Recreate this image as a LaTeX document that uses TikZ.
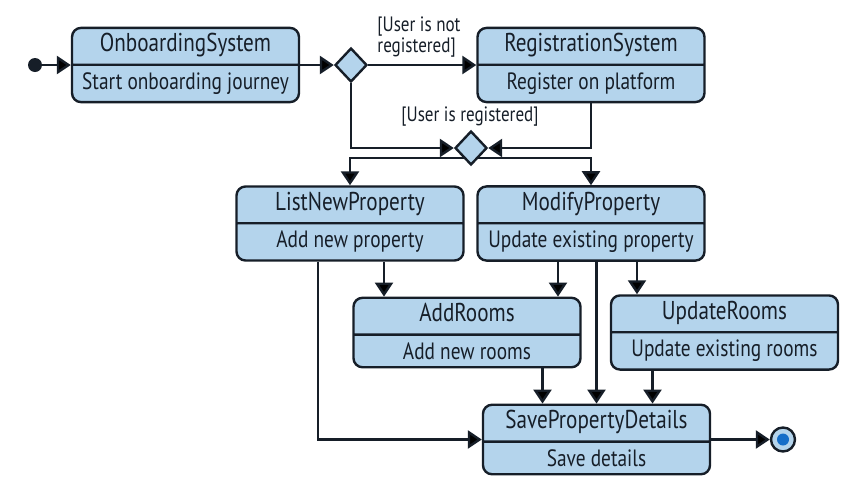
\documentclass[tikz,border=0pt]{standalone}
\usepackage{fontspec}
\setmainfont[FakeStretch=0.82]{PT Sans}
\usetikzlibrary{shapes,shapes.geometric,arrows.meta,positioning}

\definecolor{boxfill}{RGB}{180,212,236}
\definecolor{inkcol}{RGB}{22,30,40}
\definecolor{dotblue}{RGB}{22,110,200}
\newcommand\titlesize{\fontsize{12.9pt}{13pt}\selectfont}

\tikzset{
  state/.style={rectangle split, rectangle split parts=2, draw=inkcol, fill=boxfill,
    line width=1.2pt, rounded corners=4.5pt, minimum width=113.5pt,
    text height=8pt, text depth=2.6pt, inner ysep=3.3pt, align=center,
    font=\fontsize{11.8pt}{12pt}\selectfont, text=inkcol},
  choice/.style={diamond, draw=inkcol, fill=boxfill, line width=1.2pt, inner sep=0pt,
    minimum width=16pt, minimum height=17pt},
  flow/.style={-{Triangle[length=7pt,width=9pt]}, line width=1.2pt, draw=inkcol},
  guard/.style={font=\fontsize{10.4pt}{10.8pt}\selectfont, text=inkcol, align=left, inner sep=0pt}
}

\begin{document}
\begin{tikzpicture}[x=0.5pt,y=-0.5pt]
      \useasboundingbox (0,0) rectangle (868,499);
      % start and end
      \node[circle, fill=inkcol, inner sep=0pt, minimum size=7pt] (start) at (35,65) {};
      \node[circle, draw=inkcol, fill=boxfill, line width=1.2pt, inner sep=0pt, minimum size=12pt,
            path picture={\fill[dotblue] (path picture bounding box.center) circle (3pt);}] (stop) at (783,439.5) {};
      % activities
      \node[state] (onboard) at (185.5,65) {\titlesize OnboardingSystem \nodepart{two} Start onboarding journey};
      \node[state] (register) at (591,65) {\titlesize RegistrationSystem \nodepart{two} Register on platform};
      \node[state] (listprop) at (350,223.5) {\titlesize ListNewProperty \nodepart{two} Add new property};
      \node[state] (modprop) at (591,223.5) {\titlesize ModifyProperty \nodepart{two} Update existing property};
      \node[state] (addrooms) at (467,332.5) {\titlesize AddRooms \nodepart{two} Add new rooms};
      \node[state] (updrooms) at (724.5,332.5) {\titlesize UpdateRooms \nodepart{two} Update existing rooms};
      \node[state] (saveprop) at (596.5,439.5) {\titlesize SavePropertyDetails \nodepart{two} Save details};
      \node[choice] (check) at (351,65) {};
      % fork below the merge
      \coordinate (fork) at (471,158);
      \draw[flow] (fork) -| (listprop.north);
      \draw[flow] (fork) -| (modprop.north);
      \node[choice] (merge) at (471,148) {};
      % connectors
      \draw[flow] (start) -- (onboard.west);
      \draw[flow] (onboard.east) -- (check.west);
      \draw[flow] (check.east) -- (register.west);
      \node[guard] (notreg) at (419,37) {[User is not\\registered]};
      \draw[flow] (check.south) |- (merge.west);
      \draw[flow] (register.south) |- (merge.east);
      \node[guard] (isreg) at (470,117) {[User is registered]};
      \draw[flow] ([xshift=17pt]listprop.south) -- ([xshift=17pt]listprop.south |- addrooms.north);
      \draw[flow] ([xshift=-16.5pt]modprop.south) -- ([xshift=-16.5pt]modprop.south |- addrooms.north);
      \draw[flow] (modprop.south -| saveprop.north) -- (saveprop.north);
      \draw[flow] ([xshift=23pt]modprop.south) -- ([xshift=23pt]modprop.south |- updrooms.north);
      \draw[flow] ([xshift=-27pt]saveprop.north |- addrooms.south) -- ([xshift=-27pt]saveprop.north);
      \draw[flow] ([xshift=28pt]saveprop.north |- updrooms.south) -- ([xshift=28pt]saveprop.north);
      \draw[flow] ([xshift=-16pt]listprop.south) |- (saveprop.west);
      \draw[flow] (saveprop.east) -- (stop);
\end{tikzpicture}
\end{document}
